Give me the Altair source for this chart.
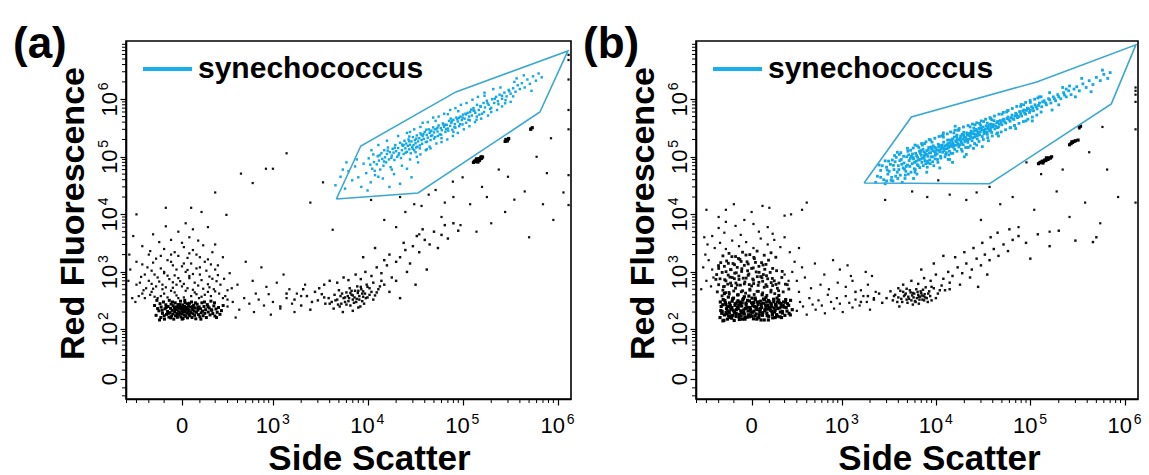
import altair as alt
import pandas as pd
import numpy as np

# ---------------- data (raw instrument values) ----------------
CX, CY = 224.0, 27.6   # arcsinh (logicle-like) cofactors of the two display axes

x_major = [0, 1e3, 1e4, 1e5, 1e6]
x_exp = ["", "3", "4", "5", "6"]
y_major = [0, 1e2, 1e3, 1e4, 1e5, 1e6]
y_exp = ["", "2", "3", "4", "5", "6"]
x_minor = [-400, -300, -200, -100, 100, 200, 300, 400, 500, 600, 700, 800, 900] + \
          [k * 10 ** n for n in (3, 4, 5) for k in range(2, 10)]
y_minor = [-20, -10, 10, 20, 30, 40, 50, 60, 70, 80, 90] + \
          [k * 10 ** n for n in (2, 3, 4, 5, 6) for k in range(2, 10)]

# ---- panel (a) ----
a_zero = [
(-150,175),(-132,210),(-120,160),(-118,245),(-110,190),(-104,300),(-98,150),(-95,228),(-90,268),(-86,182),
(-80,205),(-77,250),(-72,163),(-70,320),(-66,195),(-63,232),(-60,276),(-57,170),(-54,214),(-50,185),
(-48,258),(-45,150),(-42,238),(-40,200),(-37,290),(-35,172),(-32,222),(-30,246),(-27,188),(-25,162),
(-22,270),(-20,208),(-18,233),(-15,178),(-13,252),(-10,196),(-8,310),(-6,164),(-4,224),(-2,240),
(0,186),(2,212),(4,266),(6,154),(8,200),(10,230),(12,176),(14,250),(16,292),(18,205),
(20,168),(22,218),(24,240),(26,190),(28,280),(30,158),(32,226),(34,202),(36,256),(38,182),
(40,214),(43,172),(46,244),(49,196),(52,300),(55,160),(58,222),(61,186),(64,262),(67,208),
(70,175),(73,236),(76,152),(80,198),(84,274),(88,216),(92,180),(96,246),(100,165),(104,228),
(108,194),(112,290),(116,208),(120,172),(125,250),(130,190),(135,220),(140,160),(146,270),(152,200),
(158,236),(164,178),(170,310),(176,214),(183,188),(190,256),(198,170),(206,226),(215,198),(225,240),
(236,182),(248,212),(262,260),(-140,230),(-125,280),(-112,215),(-100,172),(-88,240),(-75,190),(-62,158),
(-52,300),(-38,220),(-24,182),(-11,270),(1,150),(15,320),(27,240),(41,285),(57,248),(74,290),
(90,240),(106,150),(128,300),(150,250),(172,220),(195,290),(-160,260),(-145,320),(-128,145),(210,160)]
a_halo = [
(-250,420),(-180,450),(-120,380),(-60,470),(10,360),(70,440),(130,400),(200,460),(280,380),(-140,350),(95,350),(-30,390),
(-220,520),(-150,560),(-90,540),(-30,600),(30,520),(90,580),(160,540),(240,600),(-300,600),
(-200,700),(-130,680),(-70,750),(-10,690),(40,780),(110,720),(180,760),(-260,820),
(-160,900),(-100,950),(-40,870),(20,1000),(60,920),(140,1050),(220,880),(320,950),
(-210,1200),(-120,1150),(-50,1300),(0,1250),(50,1400),(100,1200),(170,1350),(-300,1500),
(-150,1700),(-80,1600),(-20,1900),(30,1750),(80,2000),(150,1650),(260,1800),
(-190,2300),(-100,2500),(-40,2200),(10,2700),(60,2400),(120,2900),(-250,2800),
(-130,3300),(-60,3600),(0,3200),(40,4000),(90,3500),(200,3000),
(-170,4500),(-20,5000),(60,5500),(-90,6200),(20,7000),(150,6000),(-330,4200),
(-360,1100),(-380,700),(-340,350),(-370,2000),(-310,300),(300,330),(340,520),
(-90,13000),(50,13000),(110,11000),(290,9800),(-300,10000),
(-280,380),(-230,350),(-190,400),(-160,370),(-100,420),(-80,360),(-40,440),(-20,350),(20,470),(50,380),(80,410),
(110,370),(150,450),(170,380),(230,420),(260,350),(-240,480),(-170,510),(-110,500),(-50,530),(0,560),(60,490),
(120,510),(190,500),(300,480),(-270,650),(-180,620),(-110,600),(-50,660),(10,620),(70,650),(150,610),(210,690),
(-230,900),(-140,800),(-80,860),(-20,780),(40,850),(100,900),(160,830),(270,760),(-180,1050),(-100,1000),
(-30,1100),(30,1080),(80,1150),(200,1100),(-250,1350),(-170,1450),(-60,1500),(10,1400),(130,1500),(220,1300),
(-120,1900),(-60,2000),(40,2100),(100,1800),(-200,2000),(180,2200)]
a_tail = [
(300,250),(350,300),(420,220),(480,350),(550,280),(620,200),(700,330),(800,260),(900,410),(1000,300),
(1200,230),(1400,350),(1600,280),(1800,420),(400,600),(600,700),(850,550),(1100,650),(1500,500),(2000,380),
(500,1500),(750,1200),(1300,900),(2200,600),(380,160),(650,420),(950,180),(1700,200)]
a_second = [
(4200,300),(4800,330),(5300,280),(5800,360),(6300,310),(6800,400),(7200,290),(7700,340),(8200,380),(8800,310),
(9400,420),(10000,360),(11000,450),(12000,390),(4500,400),(5100,250),(6000,440),(6600,260),(7400,470),(8000,240),
(8600,500),(9200,280),(10500,520),(5600,350),(6200,380),(7000,330),(7900,430),(9000,370),(3900,350),(3600,280),
(3300,410),(3000,320),(5000,480),(6500,520),(7800,560),(9800,600),(11500,650),(13000,500),(14000,700),(4400,230),
(5500,200),(7000,210),(8400,250),(6800,470),
(4600,320),(5200,380),(5800,300),(6400,350),(7000,390),(7600,300),(8200,330),(8800,420),(5400,420),(6600,430),
(7300,360),(8000,470),(9600,350),(10500,400),(4000,280),(4900,270),(6000,270),(9000,460),(11500,330),(12500,440),
(3500,360),(13500,560),(15000,600),(10000,550),(8500,550),
(2000,260),(2300,380),(2600,300),(2800,450),(1700,330),(2100,500),(2500,220),(3100,520),(3500,600),(4000,700),
(4800,650),(5600,800),(6300,720),(7500,900),(8500,750),(9500,1000),(11000,850),(12500,1200),(14000,950),(16000,1300),
(18000,800),(20000,1500),(15000,1600),(17000,2000),(22000,1800),(25000,2400),(28000,1400),(30000,2800),(24000,3200),
(35000,2200),(40000,3600),(33000,4200),(45000,3000),(50000,5000),(38000,5500),(55000,2600),(60000,4400),(70000,3800),
(65000,6500),(80000,7000),(90000,5200),(12000,2600),(9000,1800),(20000,700),(26000,1000),(32000,600),(42000,1100),
(17000,450),(22000,350),(1400,420),(1200,250)]
a_sparse = [
(1400,1.15e5),(440,5.1e4),(840,6.2e4),(1000,6.2e4),(3.1e4,1.5e4),(3.7e4,1.4e4),(5.2e4,2.65e4),(7.9e4,3.7e4),
(5.2e5,3.1e5),(7.7e5,5.2e4),(1.15e6,2.4e4),(3400,3.6e4),(4300,5400),(1.09e4,1.78e4),(8.5e5,2.1e5),
(1.3e6,5.9e6),(1.3e6,4.8e6),(1.3e6,2.2e6),(1.3e6,6.5e5),(1.3e6,4.8e4),(1.3e6,1.45e4),(1.3e6,3.0e5),
(1.5e4,8000),(2.5e4,1.1e4),(6e4,9000),(1.2e5,1.5e4),(2.0e5,7000),(3.5e5,1.8e4),(5e5,4000),(8e4,2e4),
(1.6e5,3e4),(2.8e5,1.1e4),(4.5e5,2.5e4),(9e5,8000),(7e5,1.5e4),(2.2e4,2.0e4),(4.4e4,2.2e4),(6.5e4,1.6e4),
(1.0e5,4.4e4),(2.4e5,6.0e4),(1.8e5,2.0e4),(3.0e5,4.5e4),(6.0e5,1.0e5),(9.5e4,6500),(1.4e5,5000),(3.5e4,4500),
(2.0e4,6000),(600,3.5e4),(2500,1.6e4),(200,2.4e4)]
a_beads = [
(1.30e5,8.0e4),(1.33e5,8.4e4),(1.36e5,8.2e4),(1.38e5,8.7e4),(1.41e5,8.5e4),(1.44e5,9.0e4),(1.46e5,8.8e4),
(1.49e5,9.3e4),(1.52e5,9.1e4),(1.55e5,9.6e4),(1.58e5,9.4e4),(1.62e5,9.9e4),(1.40e5,9.2e4),(1.50e5,8.6e4),
(1.45e5,8.1e4),(1.57e5,1.0e5),(2.8e5,1.85e5),(2.9e5,1.95e5),(3.0e5,2.0e5),(2.85e5,2.0e5),(2.95e5,1.88e5),
(3.05e5,2.08e5),(5.2e5,3.0e5),(5.4e5,3.2e5)]
a_syn = [
(4.6e3,3.2e4),(5.2e3,4.5e4),(5.8e3,2.8e4),(6.3e3,5.6e4),(6.9e3,3.9e4),(7.4e3,6.8e4),(8.0e3,4.4e4),(8.6e3,3.0e4),
(9.1e3,7.6e4),(9.7e3,5.2e4),(1.03e4,9.4e4),(1.08e4,3.6e4),(1.12e4,6.2e4),(1.17e4,8.1e4),(1.2e4,4.8e4),(7.7e3,9.0e4),
(1.0e4,2.6e4),(6.0e3,8.0e4),(1.15e4,1.1e5),(5.5e3,6.0e4),
(1.25e4,7.4e4),(1.28e4,1.02e5),(1.32e4,8.6e4),(1.36e4,6.0e4),(1.4e4,1.15e5),(1.43e4,9.2e4),(1.47e4,7.0e4),(1.5e4,1.3e5),
(1.53e4,9.8e4),(1.57e4,8.0e4),(1.6e4,1.12e5),(1.64e4,1.45e5),(1.68e4,9.0e4),(1.72e4,1.2e5),(1.75e4,6.6e4),(1.8e4,1.05e5),
(1.84e4,1.38e5),(1.88e4,1.18e5),(1.92e4,8.8e4),(1.96e4,1.6e5),(2.0e4,1.25e5),(2.05e4,1.0e5),(2.1e4,1.42e5),(2.15e4,1.15e5),
(2.2e4,1.75e5),(2.25e4,9.5e4),(2.3e4,1.3e5),(2.35e4,1.55e5),(2.4e4,1.12e5),(2.45e4,1.9e5),(1.45e4,4.2e4),(1.9e4,5.0e4),
(2.2e4,3.4e4),(2.6e4,6.2e4),(1.7e4,3.0e4),(2.9e4,4.4e4),(3.4e4,8.0e4),(1.3e4,1.6e5),
(2.5e4,1.4e5),(2.55e4,1.7e5),(2.6e4,1.22e5),(2.65e4,1.55e5),(2.7e4,2.0e5),(2.75e4,1.35e5),(2.8e4,1.62e5),(2.85e4,1.15e5),
(2.9e4,1.85e5),(2.95e4,1.48e5),(3.0e4,2.2e5),(3.05e4,1.6e5),(3.1e4,1.3e5),(3.15e4,1.95e5),(3.2e4,1.72e5),(3.3e4,2.35e5),
(3.35e4,1.5e5),(3.4e4,1.85e5),(3.5e4,2.1e5),(3.55e4,1.4e5),(3.6e4,2.55e5),(3.7e4,1.95e5),(3.75e4,1.68e5),(3.8e4,2.3e5),
(3.9e4,2.05e5),(4.0e4,2.7e5),(4.1e4,1.8e5),(4.2e4,2.4e5),(4.3e4,2.15e5),(4.4e4,3.0e5),(4.5e4,2.6e5),(4.6e4,1.95e5),
(4.7e4,2.85e5),(4.8e4,2.35e5),(4.9e4,3.25e5),(5.0e4,2.65e5),(5.15e4,2.2e5),(5.3e4,3.05e5),(5.45e4,2.75e5),(5.6e4,3.5e5),
(5.75e4,2.45e5),(5.9e4,3.15e5),(6.05e4,2.9e5),(6.2e4,3.8e5),(6.4e4,3.3e5),(6.6e4,2.7e5),(6.8e4,3.6e5),(7.0e4,3.1e5),
(7.2e4,4.2e5),(7.4e4,3.45e5),(7.6e4,3.9e5),(7.8e4,2.95e5),(8.0e4,4.4e5),(8.3e4,3.7e5),(8.6e4,4.8e5),(8.9e4,4.1e5),
(9.2e4,3.4e5),(9.5e4,5.0e5),(9.8e4,4.35e5),(1.01e5,5.4e5),(1.05e5,4.6e5),(1.09e5,3.9e5),(1.13e5,5.8e5),(1.17e5,5.0e5),
(3.2e4,1.2e5),(4.5e4,1.5e5),(6.0e4,2.1e5),(8.0e4,2.7e5),(3.6e4,3.3e5),(5.2e4,4.2e5),(7.0e4,5.5e5),(2.8e4,2.7e5),
(4.2e4,1.35e5),(9.0e4,6.2e5),
(1.2e5,6.0e5),(1.25e5,5.2e5),(1.3e5,7.0e5),(1.36e5,5.8e5),(1.42e5,8.0e5),(1.48e5,6.5e5),(1.55e5,7.4e5),(1.6e5,5.6e5),
(1.66e5,8.6e5),(1.72e5,7.2e5),(1.8e5,9.4e5),(1.88e5,8.0e5),(1.95e5,6.8e5),(2.05e5,1.0e6),(2.15e5,8.6e5),(2.25e5,1.1e6),
(2.35e5,9.2e5),(2.45e5,1.2e6),(2.6e5,1.02e6),(2.75e5,1.3e6),(2.9e5,1.12e6),(3.05e5,1.45e6),(3.2e5,1.25e6),(3.4e5,1.55e6),
(3.6e5,1.35e6),(3.8e5,1.75e6),(4.0e5,1.5e6),(1.4e5,4.4e5),(2.0e5,6.0e5),(2.8e5,8.5e5),(3.5e5,2.0e6),(2.5e5,1.6e6),
(1.7e5,1.15e6),
(4.2e5,1.9e6),(4.5e5,1.6e6),(4.8e5,2.2e6),(5.1e5,1.85e6),(5.5e5,2.5e6),(5.9e5,2.1e6),(6.3e5,2.8e6),(4.4e5,2.6e6),
(6.8e5,2.4e6),(5.3e5,1.4e6),
(1.1e4,1.3e5),(1.3e4,4.5e4),(1.6e4,1.9e5),(1.8e4,6.0e4),(2.1e4,2.3e5),(2.3e4,7.0e4),(2.6e4,2.6e5),(2.8e4,9.0e4),
(3.1e4,3.0e5),(3.3e4,1.0e5),(3.6e4,1.1e5),(3.8e4,3.9e5),(4.1e4,1.3e5),(4.3e4,4.0e5),(4.6e4,1.4e5),(4.9e4,4.8e5),
(5.3e4,1.7e5),(5.6e4,5.0e5),(6.0e4,1.8e5),(6.4e4,5.6e5),(6.9e4,2.0e5),(7.4e4,6.5e5),(7.9e4,2.3e5),(8.4e4,7.0e5),
(8.9e4,2.6e5),(9.6e4,8.0e5),(1.03e5,3.0e5),(1.1e5,8.6e5),(1.18e5,3.4e5),(1.27e5,9.8e5),(1.35e5,4.0e5),(1.45e5,1.1e6),
(1.57e5,4.6e5),(1.7e5,1.3e6),(1.85e5,5.2e5),(2.1e5,1.5e6),(2.3e5,6.5e5),(2.6e5,7.5e5),(3.2e5,9.0e5),(3.7e5,2.3e6),
(2.4e4,1.6e5),(2.75e4,2.25e5),(3.25e4,1.45e5),(3.7e4,2.4e5),(4.15e4,2.95e5),(4.65e4,2.3e5),(5.1e4,3.0e5),(5.5e4,2.3e5),
(6.3e4,3.6e5),(6.7e4,3.0e5),(7.5e4,4.6e5),(8.2e4,3.3e5),(8.8e4,4.5e5),(9.4e4,3.7e5),(1.0e5,4.8e5),(1.07e5,5.6e5),
(1.15e5,4.4e5),(1.23e5,6.6e5),(1.33e5,6.3e5),(1.5e5,5.4e5),
(1.07e4,7.3e4),(1.19e4,5.7e4),(1.34e4,1.06e5),(1.49e4,8.3e4),(1.63e4,1.28e5),(1.78e4,9.6e4),(1.94e4,1.44e5),(2.12e4,1.07e5),
(2.31e4,1.63e5),(2.52e4,1.18e5),(2.74e4,1.86e5),(2.99e4,1.38e5),(3.26e4,2.07e5),(3.55e4,1.58e5),(3.87e4,2.48e5),(4.22e4,1.83e5),
(4.6e4,2.77e5),(5.01e4,2.07e5),(5.46e4,3.22e5),(5.95e4,2.42e5),(6.49e4,3.6e5),(7.07e4,2.85e5),(7.71e4,4.15e5),(8.4e4,3.2e5),
(9.16e4,4.75e5),(9.98e4,3.65e5),(1.09e5,5.45e5),(1.19e5,4.3e5),(1.3e5,6.4e5),(1.41e5,5.0e5),(1.54e5,7.6e5),(1.68e5,6.0e5),
(1.83e5,8.5e5),(2.0e5,7.1e5),(2.18e5,1.02e6),(2.38e5,8.2e5),(2.6e5,1.15e6),(2.83e5,9.6e5),(3.1e5,1.38e6),(3.4e5,1.12e6)]
a_gate = [(4.7e3,1.85e4),(8.5e3,1.54e5),(8.5e4,1.34e6),(1.28e6,6.9e6),(6.5e5,6.0e5),(3.4e4,2.35e4),(4.7e3,1.85e4)]

# ---- panel (b) ----
b_zero = [
(-190,160),(-182,250),(-175,205),(-168,330),(-160,178),(-153,290),(-146,228),(-140,150),(-134,365),(-128,196),
(-122,262),(-116,172),(-110,310),(-104,215),(-98,142),(-92,280),(-86,188),(-80,240),(-75,400),(-70,165),
(-65,300),(-60,210),(-55,255),(-50,150),(-45,345),(-40,185),(-35,232),(-30,270),(-25,162),(-20,208),
(-15,380),(-10,240),(-5,176),(0,290),(5,198),(10,152),(15,250),(20,330),(25,185),(30,220),
(35,268),(40,160),(45,205),(50,310),(55,240),(60,175),(65,285),(70,145),(75,226),(80,360),
(85,192),(90,260),(96,168),(102,300),(108,214),(114,246),(120,158),(126,335),(132,200),(138,272),
(145,180),(152,230),(160,390),(168,165),(176,250),(184,205),(193,300),(202,175),(212,240),(222,280),
(234,190),(246,320),(260,220),(-178,190),(-150,270),(-124,160),(-102,350),(-84,220),(-68,182),(-52,290),
(-36,150),(-22,320),(-8,215),(6,260),(18,172),(32,300),(46,230),(62,195),(78,265),(94,145),
(110,280),(130,236),(150,300),(170,200),(190,260),(-160,420),(-130,250),(-95,195),(-58,170),(-28,235),
(2,350),(28,150),(58,400),(88,225),(118,190),(148,350),(178,160),(208,330),(-188,300),(-144,185),
(-112,240),(-76,315),(-44,205),(-12,165),(12,295),(42,180),(72,330),(100,240),(136,160),(164,290),
(-170,140),(-138,210),(-106,175),(-72,262),(-40,370),(-4,200),(24,225),(52,145),(84,300),(116,205),
(-185,212),(-171,268),(-163,143),(-157,318),(-149,196),(-141,248),(-133,171),(-127,289),(-119,223),(-113,156),
(-107,341),(-99,204),(-93,262),(-87,167),(-81,297),(-74,231),(-68,148),(-62,274),(-56,192),(-49,327),
(-43,218),(-37,163),(-31,286),(-24,241),(-18,179),(-12,312),(-6,226),(1,169),(7,283),(13,207),
(19,351),(26,243),(33,158),(39,296),(47,219),(53,271),(59,186),(66,338),(73,211),(81,252),
(87,173),(95,318),(103,229),(111,266),(119,181),(127,302),(135,214),(143,257),(151,169),(159,324),
(167,236),(175,281),(185,192),(196,244),(207,298),(218,208),(231,262),(244,178)]
b_upper = [
(-176,383),(-152,437),(-128,412),(-101,466),(-79,398),(-57,452),(-33,427),(-9,481),(14,405),(37,459),(61,431),(85,391),
(109,447),(133,419),(158,472),(-166,553),(-138,612),(-114,577),(-88,641),(-62,589),(-37,668),(-13,603),
(11,627),(36,584),(61,688),(86,559),(111,652),(141,606),(-158,733),(-124,812),(-97,763),(-71,848),
(-46,779),(-19,871),(6,752),(31,826),(57,794),(83,858),(118,771),(-149,1011),(-117,1093),(-86,966),
(-54,1137),(-22,1048),(9,1174),(41,984),(73,1109),(-134,1412),(-96,1337),(-58,1521),(-19,1378),(21,1462),
(63,1318),(-112,1843),(-73,1712),(-31,1964),(12,1785),(-201,1288),(-221,742),(183,1021),(206,612),(232,503),
(-210,450),(-170,480),(-130,440),(-90,520),(-50,470),(-10,500),(30,460),(70,540),(110,480),(150,520),(190,450),
(-200,600),(-160,560),(-120,640),(-80,590),(-40,620),(0,570),(40,660),(80,600),(120,580),(160,640),(220,600),
(-190,760),(-150,700),(-110,800),(-70,740),(-30,780),(10,720),(50,830),(90,760),(130,700),(180,800),
(-215,900),(-175,980),(-135,880),(-95,950),(-55,1020),(-15,920),(25,1000),(65,900),(105,980),(145,1050),
(-200,1150),(-160,1250),(-120,1100),(-80,1200),(-40,1300),(0,1150),(40,1250),(80,1350),(120,1150),
(-185,1450),(-145,1550),(-105,1400),(-65,1650),(-25,1500),(15,1700),(55,1450),(95,1600),(140,1800),
(-170,1900),(-130,2100),(-90,1850),(-50,2200),(-10,2000),(30,2300),(70,1950),(110,2150)]
b_halo = [
(-230,2600),(-150,2500),(-70,2800),(10,2600),(90,3000),(170,2700),(-190,3200),(-110,3500),(-30,3300),(50,3800),(130,3600),
(-250,4200),(-160,4800),(-60,4400),(40,5000),(120,4600),(-200,5800),(-90,6300),(10,6800),(90,6000),(-150,7400),(-40,8000),
(-300,700),(-330,1200),(-310,2000),(-290,3000),(-350,500),(-280,1600),(-320,4000),(260,1000),(300,700),(280,1500),
(240,2200),(320,2600),(350,1200),(200,4000),
(-300,12000),(-200,9000),(-100,15000),(0,11000),(100,13000),(200,9500),(350,12000),(-150,12000),(60,14000),(250,10000),(400,16000),
(-240,800),(-250,1100),(-260,560),(200,900),(230,700)]
b_tail = [
(300,210),(330,300),(360,250),(400,180),(430,350),(470,270),(510,220),(550,320),(600,260),(650,190),(700,400),(760,300),
(820,230),(880,350),(950,280),(1020,200),(1100,380),(1200,290),(1300,240),(1400,330),(1550,260),(1700,380),(1850,300),
(2000,220),(2200,350),(320,450),(450,520),(580,600),(720,500),(900,650),(1100,550),(1300,700),(1600,480),(1900,600),
(2300,450),(380,800),(640,900),(950,1100),(1250,850),(1800,1000),(500,1400),(800,1600),(1150,1300),(2100,850)]
b_second = [
(4000,360),(4400,300),(4800,420),(5200,340),(5600,390),(6000,310),(6400,450),(6800,370),(7200,330),(7600,410),(8000,350),
(8500,460),(9000,320),(3700,400),(4200,470),(4600,380),(5000,290),(5400,440),(5800,360),(6200,500),(6600,280),(7000,430),
(7400,380),(7800,540),(3500,320),(4100,250),(4900,510),(5700,270),(6500,400),(7300,490),(8200,300),(9500,520),(10500,420),
(11500,580),(3300,460),(3000,350),(2700,290),(2500,420),(2200,330),(1900,380),(1600,300),(1400,450),(12500,480),(14000,650),
(4300,340),(4700,400),(5100,370),(5500,320),(5900,420),(6300,350),(6700,330),(7100,390),(4500,450),(5300,480),(6100,300),
(6900,460),(7700,360),(8300,420),(3900,300),(4900,330),(5700,430),(6600,370),(7500,320),(8700,380),(3600,380),(4000,520),
(10000,350),(11000,480),(9000,550),
(4500,600),(5500,700),(6500,620),(7500,780),(8800,700),(10000,900),(12000,760),(13500,1000),(15000,850),(17000,1200),
(19000,950),(21000,1400),(24000,1100),(27000,1700),(30000,1300),(33000,2000),(37000,1600),(41000,2500),(46000,1900),
(52000,3000),(58000,2300),(65000,3600),(16000,1800),(20000,2200),(25000,2600),(31000,3200),(38000,4000),(45000,4800),
(60000,5500),(75000,4200),(90000,3200),(1.2e5,4500),(1.6e5,2800),(2.0e5,5200),(3.0e5,3500),(4.6e5,3300),(5.0e5,4000),
(7000,1100),(9500,1400),(12000,1900),(14000,500),(18000,600),(23000,800),(28000,550),(35000,900),(1.0e5,1700)]
b_sparse = [
(5.6e3,2.5e4),(8.1e3,2.0e4),(2.1e4,1.78e4),(3.7e4,3.0e4),(9.1e4,8.0e4),(3.3e5,3.1e5),(5.8e5,3.3e5),(2.9e3,1.78e4),
(1.06e4,3.9e4),(1.4e4,2.2e4),(2.7e4,2.4e4),(4.8e4,1.5e4),(6.5e4,2.0e4),(1.1e5,1.2e4),(1.9e5,2.5e4),(2.6e5,9000),
(3.8e5,1.6e4),(1.3e5,5.0e4),(2.2e5,6.0e4),(4.2e5,1.2e5),(6.5e5,6.0e4),(8.5e5,2.0e4),(3.0e4,8000),(7.5e4,6000),
(1.6e5,5000),(5.5e5,7000),(1.3e6,1.6e6),(1.3e6,1.2e6),(1.3e6,9.0e5),(1.3e6,1.4e6),(1.3e6,3.0e5),(1.3e6,1.6e4)]
b_beads = [
(1.22e5,7.6e4),(1.26e5,7.9e4),(1.30e5,8.1e4),(1.34e5,8.4e4),(1.38e5,8.3e4),(1.42e5,8.8e4),(1.46e5,8.6e4),
(1.50e5,9.2e4),(1.54e5,9.0e4),(1.58e5,9.6e4),(1.63e5,9.5e4),(1.68e5,1.0e5),(1.36e5,7.8e4),(1.48e5,9.6e4),
(2.6e5,1.62e5),(2.7e5,1.7e5),(2.8e5,1.78e5),(2.9e5,1.85e5),(3.0e5,1.9e5),(2.75e5,1.82e5),(3.2e5,1.95e5),
(3.3e5,3.3e5),(3.4e5,3.4e5)]
b_syn = [
(2.4e3,4.6e4),(2.6e3,5.8e4),(2.8e3,4.0e4),(3.0e3,6.6e4),(3.1e3,5.0e4),(3.3e3,7.4e4),(3.4e3,4.4e4),(3.6e3,6.0e4),
(3.7e3,8.2e4),(3.9e3,5.4e4),(4.0e3,7.0e4),(4.2e3,4.8e4),(4.3e3,9.0e4),(4.5e3,6.4e4),(4.6e3,7.8e4),(4.8e3,5.6e4),
(4.9e3,1.0e5),(5.0e3,7.2e4),(2.9e3,8.5e4),(3.5e3,3.8e4),(4.1e3,1.1e5),(4.7e3,4.2e4),(2.7e3,7.0e4),(3.8e3,9.8e4),
(5.2e3,8.6e4),(5.3e3,6.8e4),(5.5e3,1.02e5),(5.6e3,7.6e4),(5.8e3,9.2e4),(5.9e3,6.2e4),(6.1e3,1.15e5),(6.2e3,8.4e4),
(6.4e3,9.8e4),(6.5e3,7.0e4),(6.7e3,1.25e5),(6.8e3,9.0e4),(7.0e3,1.06e5),(7.1e3,8.0e4),(7.3e3,1.35e5),(7.5e3,9.6e4),
(7.7e3,1.15e5),(7.8e3,7.6e4),(8.0e3,1.28e5),(8.2e3,1.02e5),(8.4e3,1.45e5),(8.6e3,8.8e4),(8.8e3,1.18e5),(9.0e3,1.36e5),
(9.2e3,1.0e5),(9.4e3,1.55e5),(9.6e3,1.24e5),(9.8e3,9.2e4),(1.0e4,1.42e5),(1.03e4,1.12e5),(1.06e4,1.65e5),(1.09e4,1.3e5),
(1.12e4,1.02e5),(1.15e4,1.5e5),(1.18e4,1.2e5),(1.21e4,1.8e5),(1.24e4,1.38e5),(1.27e4,1.1e5),(1.3e4,1.6e5),(1.33e4,1.95e5),
(1.36e4,1.45e5),(1.39e4,1.25e5),(5.4e3,1.3e5),(6.0e3,5.4e4),(7.2e3,1.6e5),(8.1e3,6.6e4),(9.1e3,1.8e5),(1.05e4,8.0e4),
(1.2e4,2.2e5),(1.35e4,9.0e4),(6.6e3,1.45e5),(8.7e3,7.6e4),
(1.42e4,1.75e5),(1.46e4,1.52e5),(1.5e4,2.05e5),(1.54e4,1.6e5),(1.58e4,1.35e5),(1.62e4,1.9e5),(1.66e4,2.25e5),(1.7e4,1.7e5),
(1.75e4,1.48e5),(1.8e4,2.1e5),(1.85e4,1.85e5),(1.9e4,2.45e5),(1.95e4,1.62e5),(2.0e4,2.2e5),(2.06e4,1.95e5),(2.12e4,2.6e5),
(2.18e4,1.78e5),(2.24e4,2.35e5),(2.3e4,2.05e5),(2.36e4,2.8e5),(2.42e4,1.9e5),(2.5e4,2.5e5),(2.58e4,2.2e5),(2.66e4,3.0e5),
(2.74e4,2.05e5),(2.82e4,2.7e5),(2.9e4,2.4e5),(3.0e4,3.2e5),(3.1e4,2.25e5),(3.2e4,2.9e5),(3.3e4,2.6e5),(3.4e4,3.45e5),
(3.5e4,2.45e5),(3.6e4,3.1e5),(3.7e4,2.8e5),(3.8e4,3.7e5),(3.9e4,2.65e5),(4.0e4,3.35e5),
(1.55e4,2.6e5),(1.9e4,1.25e5),(2.3e4,3.3e5),(2.7e4,1.6e5),(3.2e4,4.1e5),(3.6e4,1.9e5),(1.7e4,2.9e5),(2.2e4,1.45e5),
(2.9e4,3.8e5),(3.9e4,4.4e5),(1.45e4,1.15e5),(2.5e4,1.4e5),
(4.2e4,3.05e5),(4.4e4,3.9e5),(4.6e4,3.3e5),(4.8e4,4.25e5),(5.0e4,3.6e5),(5.2e4,4.5e5),(5.5e4,3.85e5),(5.8e4,4.9e5),
(6.1e4,4.15e5),(6.4e4,5.3e5),(6.7e4,4.45e5),(7.0e4,5.7e5),(7.3e4,4.8e5),(7.7e4,6.1e5),(8.1e4,5.1e5),(8.5e4,6.5e5),
(8.9e4,5.5e5),(9.3e4,7.0e5),(9.8e4,5.9e5),(1.03e5,7.4e5),(1.08e5,6.3e5),(4.5e4,2.6e5),(5.6e4,6.0e5),(6.8e4,3.5e5),
(7.9e4,7.5e5),(9.0e4,4.2e5),(1.0e5,8.8e5),(5.0e4,5.5e5),(6.2e4,3.2e5),
(1.12e5,8.0e5),(1.18e5,6.8e5),(1.25e5,8.6e5),(1.32e5,7.4e5),(1.4e5,9.4e5),(1.48e5,8.0e5),(1.56e5,1.02e6),(1.65e5,8.6e5),
(1.75e5,1.1e6),(1.85e5,9.4e5),(1.95e5,1.2e6),(2.1e5,1.02e6),(2.25e5,1.3e6),(2.4e5,1.1e6),(2.55e5,1.4e6),(2.7e5,1.2e6),
(2.9e5,1.5e6),(1.3e5,6.0e5),(1.6e5,1.3e6),(2.0e5,8.0e5),(2.6e5,1.7e6),(1.2e5,1.05e6),(2.2e5,1.6e6),
(3.1e5,1.65e6),(3.3e5,1.4e6),(3.6e5,1.85e6),(3.9e5,1.6e6),(4.2e5,2.1e6),(4.6e5,1.8e6),(5.0e5,2.4e6),(5.5e5,2.1e6),
(6.0e5,2.7e6),(6.6e5,2.3e6),(3.5e5,2.3e6),(4.4e5,1.35e6),(5.8e5,3.2e6),(7.0e5,2.9e6),(3.0e5,1.1e6),
(3.2e3,5.6e4),(3.45e3,8.8e4),(3.75e3,4.6e4),(4.05e3,6.0e4),(4.35e3,7.4e4),(4.55e3,1.02e5),(4.85e3,6.8e4),(5.1e3,5.0e4),
(5.35e3,9.4e4),(5.65e3,1.12e5),(5.95e3,8.0e4),(6.25e3,1.05e5),(6.55e3,8.8e4),(6.85e3,1.15e5),(7.15e3,9.4e4),(7.45e3,1.22e5),
(7.65e3,8.6e4),(7.95e3,1.1e5),(8.3e3,1.32e5),(8.5e3,1.16e5),(8.9e3,1.0e5),(9.3e3,1.28e5),(9.7e3,1.45e5),(9.9e3,1.18e5),
(1.02e4,1.3e5),(1.07e4,1.48e5),(1.1e4,1.22e5),(1.14e4,1.36e5),(1.17e4,1.6e5),(1.22e4,1.28e5),(1.26e4,1.55e5),(1.31e4,1.38e5),
(1.34e4,1.7e5),(1.38e4,1.52e5),(1.44e4,1.62e5),(1.48e4,1.9e5),(1.52e4,1.72e5),(1.57e4,2.2e5),(1.61e4,1.58e5),(1.65e4,1.82e5),
(1.69e4,2.0e5),(1.73e4,1.62e5),(1.78e4,1.95e5),(1.83e4,2.3e5),(1.87e4,1.72e5),(1.92e4,2.05e5),(1.97e4,2.35e5),(2.02e4,1.85e5),
(2.08e4,2.15e5),(2.15e4,2.4e5),(2.2e4,2.0e5),(2.27e4,2.55e5),(2.33e4,2.25e5),(2.4e4,2.6e5),(2.46e4,2.15e5),(2.54e4,2.8e5),
(2.62e4,2.45e5),(2.7e4,2.85e5),(2.78e4,2.55e5),(2.86e4,3.1e5),(2.95e4,2.7e5),(3.05e4,2.95e5),(3.15e4,3.3e5),(3.25e4,2.75e5),
(3.35e4,3.05e5),(3.45e4,2.7e5),(3.55e4,3.3e5),(3.65e4,3.55e5),(3.75e4,3.0e5),(3.85e4,3.25e5),(3.95e4,3.6e5),
(4.1e4,3.6e5),(4.3e4,3.4e5),(4.5e4,4.1e5),(4.7e4,3.7e5),(4.9e4,3.95e5),(5.1e4,4.3e5),(5.35e4,4.05e5),(5.65e4,4.6e5),
(5.95e4,4.4e5),(6.25e4,4.8e5),(6.55e4,4.6e5),(6.9e4,5.1e5),(7.2e4,5.4e5),(7.5e4,5.0e5),(7.9e4,5.6e5),(8.3e4,6.2e5),
(8.7e4,5.8e5),(9.1e4,6.4e5),(9.6e4,6.8e5),(1.0e5,6.4e5),(1.06e5,7.0e5),(1.15e5,7.4e5),(1.22e5,7.8e5),(1.35e5,9.0e5),
(1.45e5,8.6e5),(1.6e5,9.8e5),(1.8e5,1.02e6),(2.0e5,1.1e6),(2.3e5,1.18e6),
(2.6e3,4.4e4),(3.0e3,3.8e4),(3.9e3,1.2e5),(5.0e3,1.4e5),(6.3e3,5.0e4),(7.6e3,1.7e5),(9.5e3,7.0e4),(1.15e4,2.3e5),
(1.4e4,9.0e4),(1.75e4,2.9e5),(2.1e4,1.1e5),(2.6e4,3.6e5),(3.1e4,1.5e5),(3.8e4,4.6e5),(4.6e4,2.3e5),(5.8e4,6.3e5),
(7.0e4,3.1e5),(8.5e4,8.0e5),(1.05e5,4.2e5),(1.3e5,1.1e6),(1.7e5,6.5e5),(2.4e5,1.5e6),
(4.4e3,3.6e4),(5.8e3,4.2e4),(8.0e3,5.4e4),(1.1e4,6.4e4),(1.5e4,8.0e4),(2.0e4,1.0e5),(6.0e3,1.6e5),(8.5e3,2.0e5),
(1.2e4,2.6e5),(1.6e4,3.4e5),
(2.3e3,3.6e4),(2.5e3,7.2e4),(2.9e3,3.4e4),(3.15e3,8.4e4),(3.35e3,3.9e4),(3.65e3,1.05e5),(3.95e3,4.2e4),(4.25e3,1.18e5),
(4.75e3,4.8e4),(5.05e3,1.25e5),(5.45e3,5.4e4),(5.75e3,1.42e5),(6.05e3,6.0e4),(6.35e3,1.55e5),(6.75e3,6.5e4),(7.05e3,1.7e5),
(7.35e3,7.0e4),(7.85e3,1.82e5),(8.25e3,7.8e4),(8.75e3,1.95e5),(9.25e3,8.2e4),(9.75e3,2.1e5),(1.04e4,9.0e4),(1.08e4,2.25e5),
(1.13e4,9.5e4),(1.19e4,2.4e5),(1.25e4,1.0e5),(1.32e4,2.5e5),(1.37e4,1.08e5),(1.43e4,2.7e5),(1.51e4,1.15e5),(1.59e4,2.9e5),
(1.67e4,1.25e5),(1.76e4,3.1e5),(1.86e4,1.35e5),(1.96e4,3.3e5),(2.07e4,1.45e5),(2.19e4,3.5e5),(2.31e4,1.55e5),(2.44e4,3.7e5),
(2.57e4,1.7e5),(2.71e4,3.9e5),(2.86e4,1.85e5),(3.02e4,4.2e5),(3.18e4,2.0e5),(3.36e4,4.5e5),(3.54e4,2.15e5),(3.74e4,4.8e5),
(3.95e4,2.3e5),(4.17e4,5.1e5),(4.4e4,2.5e5),(4.65e4,5.5e5),(4.91e4,2.7e5),(5.18e4,5.9e5),(5.47e4,2.95e5),(5.78e4,6.4e5),
(6.1e4,3.2e5),(6.44e4,6.9e5),(6.8e4,3.5e5),(7.18e4,7.5e5),(7.58e4,3.8e5),(8.0e4,8.1e5),(8.45e4,4.1e5),(8.92e4,8.8e5),
(9.42e4,4.5e5),(9.95e4,9.5e5),(1.05e5,4.9e5),(1.11e5,1.0e6),(1.17e5,5.3e5),(1.24e5,1.1e6),
(3.05e3,5.9e4),(3.55e3,7.1e4),(4.15e3,8.6e4),(4.65e3,6.1e4),(5.15e3,1.08e5),(5.75e3,9.7e4),(6.35e3,7.3e4),(6.95e3,1.28e5),
(7.55e3,1.05e5),(8.15e3,8.4e4),(8.95e3,1.48e5),(9.85e3,1.06e5),(1.09e4,1.58e5),(1.19e4,1.44e5),(1.29e4,1.18e5),(1.41e4,1.96e5),
(1.53e4,1.47e5),(1.67e4,2.38e5),(1.81e4,1.62e5),(1.97e4,2.66e5),(2.14e4,1.9e5),(2.32e4,2.46e5),(2.52e4,3.15e5),(2.74e4,2.33e5),
(2.97e4,3.55e5),(3.23e4,2.52e5),(3.5e4,3.85e5),(3.8e4,2.85e5),(4.12e4,4.25e5),(4.47e4,3.2e5)]
b_gate = [(1.73e3,3.5e4),(5.5e3,4.9e5),(1.17e5,2.0e6),(1.31e6,8.8e6),(7.2e5,8.3e5),(3.7e4,3.4e4),(1.73e3,3.5e4)]

legend_label = "synechococcus"

# ---------------- styling ----------------
FONT = "Liberation Sans"
BLUE_PTS = "#12a8e6"
BLUE_GATE = "#3aa8d2"
BLUE_LEG = "#18b0ea"
H = 358

xscale = alt.Scale(domain=[-1.356, 9.419], nice=False, zero=False)
yscale = alt.Scale(domain=[-0.8, 13.52], nice=False, zero=False)

XCALC = f"log(datum.ssc/{CX} + sqrt(1 + pow(datum.ssc/{CX}, 2)))"
YCALC = f"log(datum.fl/{CY} + sqrt(1 + pow(datum.fl/{CY}, 2)))"

x_axis = alt.Axis(
    values=[float(v) for v in np.arcsinh(np.array(x_major) / CX)], labels=False,
    title="Side Scatter", titleFont=FONT, titleFontSize=35, titleFontWeight="bold", titleColor="black",
    titleX=243, titleY=70, titleBaseline="alphabetic", titleAlign="center",
    tickSize=6, tickColor="black", tickWidth=1.2, domainColor="black", domainWidth=1.6, grid=False)
y_axis = alt.Axis(
    values=[float(v) for v in np.arcsinh(np.array(y_major) / CY)], labels=False,
    title="Red Fluorescence", titleFont=FONT, titleFontSize=34, titleFontWeight="bold", titleColor="black",
    titleX=-43, titleY=172, titleBaseline="alphabetic", titleAlign="center", titleAngle=270,
    tickSize=6, tickColor="black", tickWidth=1.2, domainColor="black", domainWidth=1.6, grid=False)


def frame(pts):
    return pd.DataFrame({"ssc": [p[0] for p in pts], "fl": [p[1] for p in pts]})


def xy(frame_df):
    return alt.Chart(frame_df).transform_calculate(xt=XCALC, yt=YCALC)


def enc_xy():
    return dict(x=alt.X("xt:Q", scale=xscale, axis=x_axis),
                y=alt.Y("yt:Q", scale=yscale, axis=y_axis))


def scatter(pts, color, size):
    return xy(frame(pts)).mark_square(size=size, color=color, opacity=1, strokeWidth=0).encode(**enc_xy())


def tick_labels():
    """Major tick labels: '0' or '10' plus a raised exponent, placed through the scales."""
    xd = pd.DataFrame({"ssc": x_major, "e": x_exp, "b": ["0" if e == "" else "10" for e in x_exp]})
    yd = pd.DataFrame({"fl": y_major, "e": y_exp, "b": ["0" if e == "" else "10" for e in y_exp]})
    xe = alt.X("xt:Q", scale=xscale, axis=x_axis)
    ye = alt.Y("yt:Q", scale=yscale, axis=y_axis)
    txt = dict(font=FONT, color="black", baseline="alphabetic")
    xbase = alt.Chart(xd).transform_calculate(xt=XCALC)
    ybase = alt.Chart(yd).transform_calculate(yt=YCALC)
    return [
        xbase.transform_filter("datum.e == ''").mark_text(fontSize=22, align="center", **txt).encode(
            x=xe, y=alt.value(H + 34), text="b:N"),
        xbase.transform_filter("datum.e != ''").mark_text(fontSize=22, align="center", dx=-5, **txt).encode(
            x=xe, y=alt.value(H + 34), text="b:N"),
        xbase.transform_filter("datum.e != ''").mark_text(fontSize=14, align="left", dx=9, **txt).encode(
            x=xe, y=alt.value(H + 25), text="e:N"),
        ybase.transform_filter("datum.e == ''").mark_text(fontSize=22, align="center", angle=270, **txt).encode(
            y=ye, x=alt.value(-9), text="b:N"),
        ybase.transform_filter("datum.e != ''").mark_text(fontSize=22, align="center", angle=270, dx=-5, **txt).encode(
            y=ye, x=alt.value(-9), text="b:N"),
        ybase.transform_filter("datum.e != ''").mark_text(fontSize=14, align="left", angle=270, dx=9, dy=-9, **txt).encode(
            y=ye, x=alt.value(-9), text="e:N"),
    ]


def panel(tag, core, upper, black, second, beads, syn, gate, width, blue_size, core_size, upper_size):
    g = frame(gate)
    g["i"] = range(len(g))
    layers = [
        scatter(black, "#111111", 5),
        scatter(upper, "#111111", upper_size),
        scatter(second, "#111111", 6),
        scatter(core, "#000000", core_size),
        scatter(beads, "#000000", 10),
        scatter(syn, BLUE_PTS, blue_size),
        xy(g).mark_line(color=BLUE_GATE, strokeWidth=1.6).encode(order=alt.Order("i:Q"), **enc_xy()),
        alt.Chart(pd.DataFrame({"ssc": x_minor})).transform_calculate(xt=XCALC).mark_rule(
            color="black", strokeWidth=1).encode(
            x=alt.X("xt:Q", scale=xscale, axis=x_axis), y=alt.value(H), y2=alt.value(H + 4)),
        alt.Chart(pd.DataFrame({"fl": y_minor})).transform_calculate(yt=YCALC).mark_rule(
            color="black", strokeWidth=1).encode(
            y=alt.Y("yt:Q", scale=yscale, axis=y_axis), x=alt.value(0), x2=alt.value(-4)),
        alt.Chart(pd.DataFrame({"a": [0]})).mark_rule(color=BLUE_LEG, strokeWidth=4).encode(
            x=alt.value(17), x2=alt.value(66), y=alt.value(28)),
        alt.Chart(pd.DataFrame({"t": [legend_label]})).mark_text(
            font=FONT, fontSize=30, fontWeight="bold", align="left", baseline="alphabetic", color="black").encode(
            text="t:N", x=alt.value(72), y=alt.value(37)),
        alt.Chart(pd.DataFrame({"t": [tag]})).mark_text(
            font=FONT, fontSize=44, fontWeight="bold", align="left", baseline="alphabetic", color="black").encode(
            text="t:N", x=alt.value(-113), y=alt.value(17)),
    ] + tick_labels()
    return alt.layer(*layers).properties(width=width, height=H)


pa = panel("(a)", a_zero, a_halo, a_tail + a_sparse, a_second, a_beads, a_syn, a_gate, 445, 6, 9, 5)
pb = panel("(b)", b_zero, b_upper, b_halo + b_tail + b_sparse, b_second, b_beads, b_syn, b_gate, 442, 8, 10, 8)

chart = alt.hconcat(pa, pb, spacing=125, bounds="flush").properties(
    padding={"left": 12, "top": 22, "right": 0, "bottom": 0},
    background="white",
).configure_view(stroke="black", strokeWidth=1.6)

chart.save("out.html", embed_options={"renderer": "svg", "actions": False})
